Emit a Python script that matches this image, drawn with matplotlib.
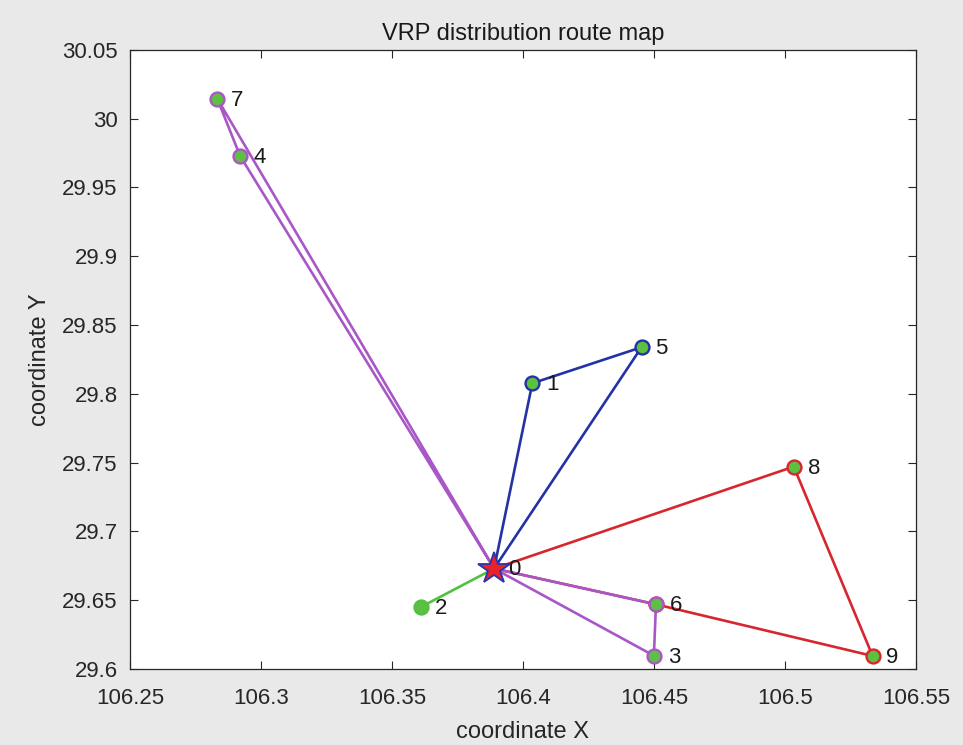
import matplotlib
matplotlib.use("Agg")
import matplotlib.pyplot as plt

plt.rcParams['font.family'] = ['Liberation Sans', 'DejaVu Sans']

# node coordinates (index = node id)
node_ids = [0, 1, 2, 3, 4, 5, 6, 7, 8, 9]
node_x = [106.389, 106.4036, 106.361, 106.450, 106.292, 106.4453, 106.4508, 106.2833, 106.5034, 106.5335]
node_y = [29.673, 29.8077, 29.645, 29.6097, 29.973, 29.8339, 29.647, 30.0146, 29.7471, 29.6095]

# routes (sequence of node ids) and their colours
route_blue = [0, 1, 5, 0]
route_red = [0, 8, 9, 6, 0]
route_purple = [0, 4, 7, 0, 3, 6, 0]
route_green = [0, 2]

routes = [
    (route_blue, '#2432a6'),
    (route_red, '#d8262e'),
    (route_purple, '#a957c6'),
    (route_green, '#52c040'),
]

title = 'VRP distribution route map'
xlabel = 'coordinate X'
ylabel = 'coordinate Y'
xticks = [106.25, 106.3, 106.35, 106.4, 106.45, 106.5, 106.55]
xticklabels = ['106.25', '106.3', '106.35', '106.4', '106.45', '106.5', '106.55']
yticks = [29.6, 29.65, 29.7, 29.75, 29.8, 29.85, 29.9, 29.95, 30.0, 30.05]
yticklabels = ['29.6', '29.65', '29.7', '29.75', '29.8', '29.85', '29.9', '29.95', '30', '30.05']

fig = plt.figure(figsize=(9.63, 7.45), dpi=100, facecolor='#e9e9e9')
ax = fig.add_axes([0.135, 0.102, 0.816, 0.831])
ax.set_facecolor('white')

green_face = '#5cc041'
for seq, col in routes:
    xs = [node_x[i] for i in seq]
    ys = [node_y[i] for i in seq]
    ax.plot(xs, ys, '-', color=col, lw=1.9, zorder=2)
    for i in seq:
        if i == 0:
            continue
        ax.plot(node_x[i], node_y[i], 'o', ms=10, mfc=green_face, mec=col, mew=1.7, zorder=3)

# depot
ax.plot(node_x[0], node_y[0], '*', ms=24, mfc='#e8212b', mec='#2a35a8', mew=1.3, zorder=4)

for i in node_ids:
    ax.annotate(str(i), (node_x[i], node_y[i]), xytext=(10, -1), textcoords='offset points',
                ha='left', va='center', fontsize=16, color='#1a1a1a', zorder=5)

ax.set_xlim(106.25, 106.55)
ax.set_ylim(29.6, 30.05)
ax.set_xticks(xticks)
ax.set_xticklabels(xticklabels)
ax.set_yticks(yticks)
ax.set_yticklabels(yticklabels)
ax.tick_params(direction='in', length=6, width=0.8, top=True, right=True,
               labelsize=16, colors='#262626')
ax.tick_params(axis='x', pad=14)
ax.tick_params(axis='y', pad=9)
for s in ax.spines.values():
    s.set_color('#262626')
    s.set_linewidth(0.9)

ax.set_title(title, fontsize=17, color='#1a1a1a', pad=7)
ax.set_xlabel(xlabel, fontsize=17, color='#262626', labelpad=8)
ax.set_ylabel(ylabel, fontsize=17, color='#262626', labelpad=8)

fig.savefig('out.png', dpi=100, facecolor=fig.get_facecolor())
